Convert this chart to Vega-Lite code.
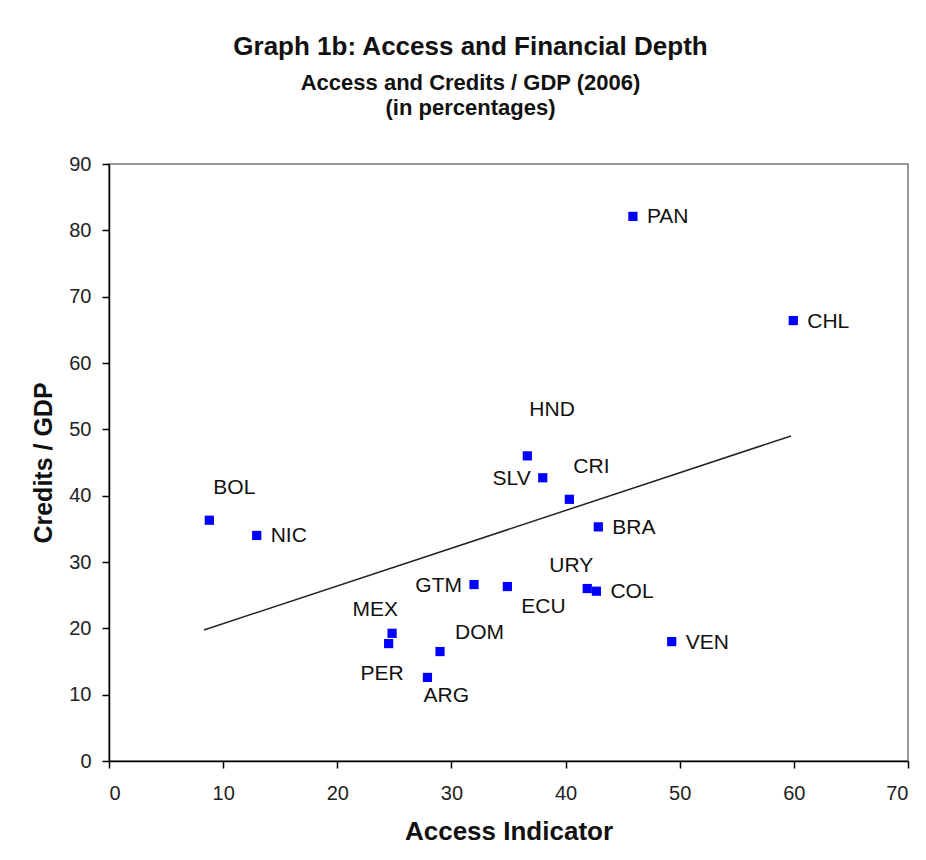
{
  "$schema": "https://vega.github.io/schema/vega-lite/v6.json",
  "autosize": "none",
  "width": 799,
  "height": 597,
  "padding": {"left": 109, "top": 164, "right": 18, "bottom": 99},
  "background": "white",
  "title": {
    "text": "Graph 1b: Access and Financial Depth",
    "subtitle": ["Access and Credits / GDP (2006)", "(in percentages)"],
    "anchor": "middle",
    "dx": -38,
    "offset": 35,
    "font": "Liberation Sans",
    "fontSize": 26,
    "fontWeight": "bold",
    "color": "#111",
    "subtitleFont": "Liberation Sans",
    "subtitleFontSize": 22,
    "subtitleFontWeight": "bold",
    "subtitleColor": "#111",
    "subtitlePadding": 13,
    "subtitleLineHeight": 25
  },
  "datasets": {
    "points": [
      {"country": "PAN", "access": 45.9, "credit": 82.1, "pos": "right"},
      {"country": "CHL", "access": 59.95, "credit": 66.4, "pos": "right"},
      {"country": "HND", "access": 36.65, "credit": 46.0, "pos": "top"},
      {"country": "SLV", "access": 38.0, "credit": 42.7, "pos": "left"},
      {"country": "CRI", "access": 40.33, "credit": 39.45, "pos": "above"},
      {"country": "BRA", "access": 42.87, "credit": 35.3, "pos": "right"},
      {"country": "BOL", "access": 8.79, "credit": 36.3, "pos": "above"},
      {"country": "NIC", "access": 12.94, "credit": 34.0, "pos": "right"},
      {"country": "GTM", "access": 31.98, "credit": 26.6, "pos": "left"},
      {"country": "ECU", "access": 34.9, "credit": 26.3, "pos": "belowright"},
      {"country": "URY", "access": 41.9, "credit": 26.0, "pos": "upleft"},
      {"country": "COL", "access": 42.7, "credit": 25.6, "pos": "right"},
      {"country": "VEN", "access": 49.3, "credit": 18.0, "pos": "right"},
      {"country": "MEX", "access": 24.8, "credit": 19.25, "pos": "upleft"},
      {"country": "PER", "access": 24.5, "credit": 17.7, "pos": "downleft"},
      {"country": "DOM", "access": 29.0, "credit": 16.5, "pos": "upright"},
      {"country": "ARG", "access": 27.9, "credit": 12.6, "pos": "below"}
    ],
    "trend": [
      {"access": 8.32, "credit": 19.75},
      {"access": 59.75, "credit": 49.0}
    ]
  },
  "encoding": {
    "x": {
      "field": "access",
      "type": "quantitative",
      "scale": {"domain": [0, 70], "nice": false, "zero": true},
      "axis": {
        "title": "Access Indicator",
        "values": [0, 10, 20, 30, 40, 50, 60, 70],
        "grid": false,
        "domainColor": "#000",
        "domainWidth": 1.5,
        "tickColor": "#000",
        "tickWidth": 1.5,
        "tickSize": 7,
        "labelPadding": 15,
        "labelFont": "Liberation Sans",
        "labelFontSize": 20,
        "labelColor": "#222",
        "titleFont": "Liberation Sans",
        "titleFontSize": 26,
        "titleFontWeight": "bold",
        "titleColor": "#111",
        "titlePadding": 15
      }
    },
    "y": {
      "field": "credit",
      "type": "quantitative",
      "scale": {"domain": [0, 90], "nice": false},
      "axis": {
        "title": "Credits / GDP",
        "values": [0, 10, 20, 30, 40, 50, 60, 70, 80, 90],
        "grid": false,
        "domainColor": "#000",
        "domainWidth": 1.5,
        "tickColor": "#000",
        "tickWidth": 1.5,
        "tickSize": 7,
        "labelPadding": 11,
        "labelFont": "Liberation Sans",
        "labelFontSize": 20,
        "labelColor": "#222",
        "titleFont": "Liberation Sans",
        "titleFontSize": 25,
        "titleFontWeight": "bold",
        "titleColor": "#111",
        "titlePadding": 12
      }
    }
  },
  "layer": [
    {
      "data": {"name": "trend"},
      "mark": {"type": "line", "color": "#222", "strokeWidth": 1.5}
    },
    {
      "data": {"name": "points"},
      "mark": {"type": "point", "shape": "square", "filled": true, "color": "#0000FF", "size": 85, "opacity": 1}
    },
    {
      "data": {"name": "points"},
      "transform": [{"filter": {"field": "pos", "equal": "right"}}],
      "mark": {"type": "text", "align": "left", "baseline": "middle", "dx": 14, "dy": 1, "font": "Liberation Sans", "fontSize": 21, "color": "#111"},
      "encoding": {"text": {"field": "country"}}
    },
    {
      "data": {"name": "points"},
      "transform": [{"filter": {"field": "pos", "equal": "left"}}],
      "mark": {"type": "text", "align": "right", "baseline": "middle", "dx": -12, "dy": 1, "font": "Liberation Sans", "fontSize": 21, "color": "#111"},
      "encoding": {"text": {"field": "country"}}
    },
    {
      "data": {"name": "points"},
      "transform": [{"filter": {"field": "pos", "equal": "above"}}],
      "mark": {"type": "text", "align": "left", "baseline": "middle", "dx": 4, "dy": -32, "font": "Liberation Sans", "fontSize": 21, "color": "#111"},
      "encoding": {"text": {"field": "country"}}
    },
    {
      "data": {"name": "points"},
      "transform": [{"filter": {"field": "pos", "equal": "top"}}],
      "mark": {"type": "text", "align": "left", "baseline": "middle", "dx": 2, "dy": -46, "font": "Liberation Sans", "fontSize": 21, "color": "#111"},
      "encoding": {"text": {"field": "country"}}
    },
    {
      "data": {"name": "points"},
      "transform": [{"filter": {"field": "pos", "equal": "upleft"}}],
      "mark": {"type": "text", "align": "right", "baseline": "middle", "dx": 6, "dy": -23, "font": "Liberation Sans", "fontSize": 21, "color": "#111"},
      "encoding": {"text": {"field": "country"}}
    },
    {
      "data": {"name": "points"},
      "transform": [{"filter": {"field": "pos", "equal": "upright"}}],
      "mark": {"type": "text", "align": "left", "baseline": "middle", "dx": 15, "dy": -19, "font": "Liberation Sans", "fontSize": 21, "color": "#111"},
      "encoding": {"text": {"field": "country"}}
    },
    {
      "data": {"name": "points"},
      "transform": [{"filter": {"field": "pos", "equal": "downleft"}}],
      "mark": {"type": "text", "align": "right", "baseline": "middle", "dx": 15, "dy": 30, "font": "Liberation Sans", "fontSize": 21, "color": "#111"},
      "encoding": {"text": {"field": "country"}}
    },
    {
      "data": {"name": "points"},
      "transform": [{"filter": {"field": "pos", "equal": "below"}}],
      "mark": {"type": "text", "align": "left", "baseline": "middle", "dx": -4, "dy": 19, "font": "Liberation Sans", "fontSize": 21, "color": "#111"},
      "encoding": {"text": {"field": "country"}}
    },
    {
      "data": {"name": "points"},
      "transform": [{"filter": {"field": "pos", "equal": "belowright"}}],
      "mark": {"type": "text", "align": "left", "baseline": "middle", "dx": 14, "dy": 20, "font": "Liberation Sans", "fontSize": 21, "color": "#111"},
      "encoding": {"text": {"field": "country"}}
    }
  ],
  "config": {
    "view": {"stroke": "#999", "strokeWidth": 2}
  }
}
